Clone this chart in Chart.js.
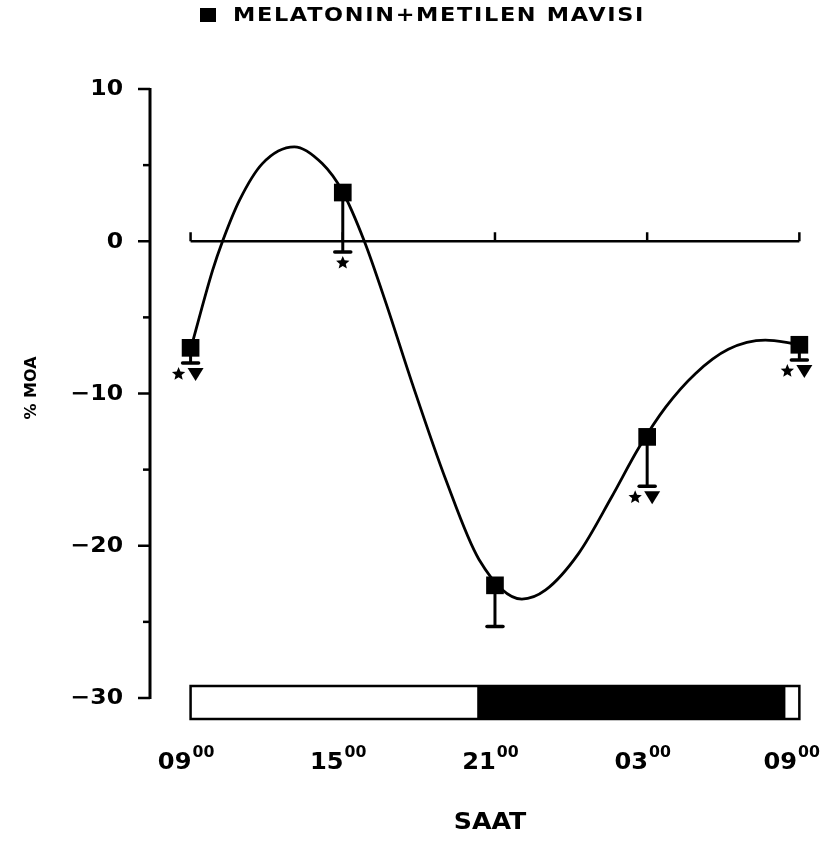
<!DOCTYPE html>
<html>
<head>
<meta charset="utf-8">
<script src="https://cdn.jsdelivr.net/npm/chart.js@4/dist/chart.umd.min.js"></script>
<style>
  html, body { margin: 0; padding: 0; background: #fff; }
  canvas { display: block; }
</style>
</head>
<body>
<canvas id="moaChart" width="822" height="841"></canvas>
<script>
// Sampling times, in hours from 09:00 of day 1 (27 = 03:00, 33 = 09:00 next day)
const hours = [9, 15, 21, 27, 33];
const hourLabels = ['09', '15', '21', '03', '09'];
const meanMOA = [-7.0, 3.2, -22.6, -12.85, -6.8];
const lowerMOA = [-8.0, -0.7, -25.3, -16.1, -7.8];
const starMark = [true, true, false, true, true];
const triangleMark = [true, false, false, true, true];

// Fitted rhythm curve
const curveHours = [9.0, 9.87, 10.26, 10.93, 11.83, 13.09, 14.19, 14.98, 15.85, 16.71, 17.73,
    19.07, 20.37, 22.06, 23.0, 24.3, 25.6, 26.66, 27.73, 28.9, 30.2, 31.66, 32.68, 33.0];
const curveMOA = [-7.1, -1.9, 0.0, 2.7, 5.1, 6.2, 5.1, 3.3, 0.0, -4.1, -9.3,
    -15.7, -20.9, -23.5, -22.9, -20.5, -16.8, -13.6, -10.9, -8.7, -7.1, -6.5, -6.7, -6.8];

const yTicks = [10, 0, -10, -20, -30];
const lightsOff = 20.3;  // light/dark bar
const lightsOn = 32.45;
const seriesName = 'MELATONIN+METILEN MAVISI';
const xTitle = 'SAAT';
const yTitle = '% MOA';

const FONT = '"DejaVu Sans", sans-serif';

function drawStar(ctx, cx, cy, r) {
    ctx.beginPath();
    for (let i = 0; i < 10; i++) {
        const rad = i % 2 ? r * 0.45 : r;
        const a = -Math.PI / 2 + i * Math.PI / 5;
        const px = cx + rad * Math.cos(a);
        const py = cy + rad * Math.sin(a);
        if (i === 0) ctx.moveTo(px, py); else ctx.lineTo(px, py);
    }
    ctx.closePath();
    ctx.fill();
}

function drawTriangle(ctx, cx, cy) {
    ctx.beginPath();
    ctx.moveTo(cx - 8, cy - 6);
    ctx.lineTo(cx + 8, cy - 6);
    ctx.lineTo(cx, cy + 7);
    ctx.closePath();
    ctx.fill();
}

// text stretched horizontally, like the wide plotter lettering of the original
function wideText(ctx, txt, x, y, stretch, align) {
    const w = ctx.measureText(txt).width * stretch;
    let x0 = x;
    if (align === 'center') x0 = x - w / 2;
    if (align === 'right') x0 = x - w;
    ctx.save();
    ctx.textAlign = 'left';
    ctx.translate(x0, y);
    ctx.scale(stretch, 1);
    ctx.fillText(txt, 0, 0);
    ctx.restore();
    return w;
}

// Axis, zero line, error bars and light/dark bar
const framePlugin = {
    id: 'frame',
    beforeDatasetsDraw(chart) {
        const ctx = chart.ctx;
        const xs = chart.scales.x;
        const ys = chart.scales.y;
        const left = chart.chartArea.left;
        ctx.save();
        ctx.strokeStyle = '#000';
        ctx.fillStyle = '#000';
        ctx.lineCap = 'butt';

        // y axis line with major / minor ticks
        ctx.lineWidth = 3;
        ctx.beginPath();
        ctx.moveTo(left, ys.getPixelForValue(10) - 1);
        ctx.lineTo(left, ys.getPixelForValue(-30) + 1);
        ctx.stroke();
        for (let v = -30; v <= 10; v += 5) {
            const y = ys.getPixelForValue(v);
            const len = v % 10 === 0 ? 12 : 7;
            ctx.lineWidth = 2.5;
            ctx.beginPath();
            ctx.moveTo(left - len, y);
            ctx.lineTo(left, y);
            ctx.stroke();
        }

        // zero reference line with small upward ticks at each sampling time
        const y0 = ys.getPixelForValue(0);
        ctx.lineWidth = 2.5;
        ctx.beginPath();
        ctx.moveTo(xs.getPixelForValue(hours[0]), y0);
        ctx.lineTo(xs.getPixelForValue(hours[hours.length - 1]), y0);
        ctx.stroke();
        hours.forEach(h => {
            const x = xs.getPixelForValue(h);
            ctx.beginPath();
            ctx.moveTo(x, y0);
            ctx.lineTo(x, y0 - 9);
            ctx.stroke();
        });

        // error bars (lower half only)
        hours.forEach((h, i) => {
            const x = xs.getPixelForValue(h);
            const yM = ys.getPixelForValue(meanMOA[i]);
            const yL = ys.getPixelForValue(lowerMOA[i]);
            ctx.lineWidth = 3;
            ctx.beginPath();
            ctx.moveTo(x, yM);
            ctx.lineTo(x, yL);
            ctx.stroke();
            ctx.lineWidth = 3.5;
            ctx.lineCap = 'round';
            ctx.beginPath();
            ctx.moveTo(x - 8, yL);
            ctx.lineTo(x + 8, yL);
            ctx.stroke();
            ctx.lineCap = 'butt';

            const yMark = yL + 11;
            if (starMark[i]) drawStar(ctx, x + (triangleMark[i] ? -12 : 0), yMark, 7);
            if (triangleMark[i]) drawTriangle(ctx, x + 5, yMark);
        });

        // light / dark bar along the bottom
        const bTop = ys.getPixelForValue(-30) - 12;
        const bBot = ys.getPixelForValue(-30) + 21;
        const bx0 = xs.getPixelForValue(hours[0]);
        const bx1 = xs.getPixelForValue(hours[hours.length - 1]);
        const xOff = xs.getPixelForValue(lightsOff);
        const xOn = xs.getPixelForValue(lightsOn);
        ctx.fillStyle = '#fff';
        ctx.fillRect(bx0, bTop, bx1 - bx0, bBot - bTop);
        ctx.fillStyle = '#000';
        ctx.fillRect(xOff, bTop, xOn - xOff, bBot - bTop);
        ctx.lineWidth = 2.5;
        ctx.strokeRect(bx0, bTop, bx1 - bx0, bBot - bTop);
        ctx.restore();
    },
    afterDraw(chart) {
        const ctx = chart.ctx;
        const xs = chart.scales.x;
        const ys = chart.scales.y;
        ctx.save();
        ctx.fillStyle = '#000';

        // y tick labels
        ctx.font = 'bold 21px ' + FONT;
        ctx.textBaseline = 'middle';
        yTicks.forEach(v => {
            const txt = v < 0 ? '\u2212' + Math.abs(v) : String(v);
            wideText(ctx, txt, 123, ys.getPixelForValue(v) + 1, 1.12, 'right');
        });

        // x tick labels: hour with superscript 00
        ctx.textBaseline = 'alphabetic';
        hours.forEach((h, i) => {
            const x = xs.getPixelForValue(h);
            ctx.font = 'bold 23px ' + FONT;
            const wMain = ctx.measureText(hourLabels[i]).width * 1.05;
            ctx.font = 'bold 15px ' + FONT;
            const wSup = ctx.measureText('00').width * 1.05;
            const start = Math.min(x - 5 - (wMain + wSup) / 2, 820 - wMain - wSup - 1);
            ctx.font = 'bold 23px ' + FONT;
            wideText(ctx, hourLabels[i], start, 769, 1.05, 'left');
            ctx.font = 'bold 15px ' + FONT;
            wideText(ctx, '00', start + wMain + 1, 757, 1.05, 'left');
        });

        // x title
        ctx.font = 'bold 23px ' + FONT;
        ctx.textBaseline = 'middle';
        wideText(ctx, xTitle, 490, 823, 1.1, 'center');

        // y title
        ctx.save();
        ctx.translate(32, 388);
        ctx.rotate(-Math.PI / 2);
        ctx.font = 'bold 16px ' + FONT;
        ctx.textAlign = 'center';
        ctx.fillText(yTitle, 0, 0);
        ctx.restore();

        // legend
        ctx.fillRect(200, 8, 16, 14);
        ctx.font = 'bold 20px ' + FONT;
        ctx.letterSpacing = '1.5px';
        const natural = ctx.measureText(seriesName).width;
        wideText(ctx, seriesName, 233, 16, 412 / natural, 'left');
        ctx.restore();
    }
};

const chart = new Chart(document.getElementById('moaChart'), {
    type: 'scatter',
    data: {
        datasets: [
            {
                label: seriesName,
                data: hours.map((h, i) => ({ x: h, y: meanMOA[i] })),
                pointStyle: 'rect',
                pointRadius: 12.5,
                backgroundColor: '#000',
                borderColor: '#000',
                borderWidth: 0,
                clip: false
            },
            {
                label: 'fit',
                data: curveHours.map((h, i) => ({ x: h, y: curveMOA[i] })),
                showLine: true,
                pointRadius: 0,
                borderColor: '#000',
                borderWidth: 2.8,
                cubicInterpolationMode: 'monotone',
                fill: false,
                clip: false
            }
        ]
    },
    options: {
        responsive: false,
        animation: false,
        events: [],
        layout: { padding: { left: 150, right: 11, top: 89, bottom: 143 } },
        plugins: {
            legend: { display: false },
            tooltip: { enabled: false }
        },
        scales: {
            x: { type: 'linear', min: 7.4, max: 33.4, display: false },
            y: { type: 'linear', min: -30, max: 10, display: false }
        }
    },
    plugins: [framePlugin]
});
</script>
</body>
</html>
